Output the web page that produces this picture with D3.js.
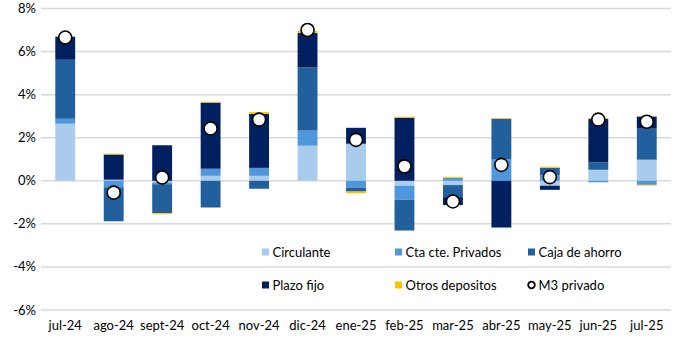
<!DOCTYPE html>
<html lang="es">
<head>
<meta charset="utf-8">
<title>M3 privado</title>
<script src="https://d3js.org/d3.v7.min.js"></script>
<style>
  body { margin: 0; background: #fff; }
  svg text { font-family: Lato, "Open Sans", sans-serif; font-size: 13px; fill: #000; }
</style>
</head>
<body>
<div id="chart"></div>
<script>
// months and contributions (p.p.)
var months = ["jul-24","ago-24","sept-24","oct-24","nov-24","dic-24","ene-25","feb-25","mar-25","abr-25","may-25","jun-25","jul-25"];
var circulante = [2.65, 0.05, -0.08, 0.23, 0.23, 1.63, 1.72, -0.23, -0.20, 0.00, -0.23, 0.51, 0.98];
var ctaCte     = [0.23, -0.30, -0.08, 0.33, 0.37, 0.70, -0.31, -0.65, 0.14, 0.99, 0.27, -0.07, -0.19];
var caja       = [2.74, -1.58, -1.34, -1.24, -0.37, 2.93, -0.19, -1.43, -0.56, 1.89, 0.33, 0.34, 1.44];
var plazoFijo  = [1.07, 1.17, 1.65, 3.07, 2.51, 1.60, 0.74, 2.93, -0.37, -2.17, -0.19, 2.02, 0.56];
var otros      = [0.02, 0.04, -0.05, 0.04, 0.08, 0.10, -0.08, 0.04, 0.04, 0.04, 0.05, 0.04, -0.03];
var m3         = [6.65, -0.55, 0.15, 2.43, 2.84, 7.00, 1.90, 0.67, -0.96, 0.74, 0.17, 2.84, 2.74];
var yTicks = [8, 6, 4, 2, 0, -2, -4, -6];

var seriesNames = ["Circulante", "Cta cte. Privados", "Caja de ahorro", "Plazo fijo", "Otros depositos"];
var seriesData = [circulante, ctaCte, caja, plazoFijo, otros];
var colors = ["#a9cbec", "#4f97dc", "#21609d", "#002060", "#ffc000"];

var W = 680, H = 340;
var plotLeft = 41, plotRight = 671, plotTop = 8.5, plotBottom = 310;

var svg = d3.select("#chart").append("svg")
  .attr("width", W).attr("height", H);

var x = d3.scaleBand().domain(months).range([plotLeft, plotRight])
  .paddingInner(0.59).paddingOuter(0.295);
var y = d3.scaleLinear().domain([-6, 8]).range([plotBottom, plotTop]);

// gridlines
svg.append("g").selectAll("line").data(yTicks).enter().append("line")
  .attr("x1", plotLeft).attr("x2", plotRight)
  .attr("y1", function(d){ return y(d); }).attr("y2", function(d){ return y(d); })
  .attr("stroke", "#d9d9d9").attr("stroke-width", 1.5);

// y labels
svg.append("g").selectAll("text").data(yTicks).enter().append("text")
  .attr("x", 36).attr("y", function(d){ return y(d); })
  .attr("dy", "0.35em").attr("text-anchor", "end")
  .text(function(d){ return d + "%"; });

// x labels
svg.append("g").selectAll("text").data(months).enter().append("text")
  .attr("x", function(d){ return x(d) + x.bandwidth() / 2; })
  .attr("y", 330).attr("text-anchor", "middle")
  .text(function(d){ return d; });

// stacked bars
var table = months.map(function(m, i) {
  var row = { month: m };
  seriesNames.forEach(function(s, j){ row[s] = seriesData[j][i]; });
  return row;
});
var stacked = d3.stack().keys(seriesNames).offset(d3.stackOffsetDiverging)(table);

svg.append("g").selectAll("g").data(stacked).enter().append("g")
  .attr("fill", function(d, i){ return colors[i]; })
  .selectAll("rect").data(function(d){ return d; }).enter().append("rect")
  .attr("x", function(d){ return x(d.data.month); })
  .attr("width", x.bandwidth())
  .attr("y", function(d){ return y(Math.max(d[0], d[1])); })
  .attr("height", function(d){ return Math.abs(y(d[0]) - y(d[1])); });

// M3 dots
svg.append("g").selectAll("circle").data(m3).enter().append("circle")
  .attr("cx", function(d, i){ return x(months[i]) + x.bandwidth() / 2; })
  .attr("cy", function(d){ return y(d); })
  .attr("r", 6.5)
  .attr("fill", "#fff").attr("stroke", "#000").attr("stroke-width", 1.6);

// legend
var legendItems = [
  { name: "Circulante", color: colors[0], x: 262, y: 252 },
  { name: "Cta cte. Privados", color: colors[1], x: 395, y: 252 },
  { name: "Caja de ahorro", color: colors[2], x: 528, y: 252 },
  { name: "Plazo fijo", color: colors[3], x: 262, y: 285 },
  { name: "Otros depositos", color: colors[4], x: 395, y: 285 },
  { name: "M3 privado", color: null, x: 528, y: 285 }
];
var lg = svg.append("g").selectAll("g").data(legendItems).enter().append("g")
  .attr("transform", function(d){ return "translate(" + d.x + "," + d.y + ")"; });
lg.filter(function(d){ return d.color; }).append("rect")
  .attr("x", 0).attr("y", -3.5).attr("width", 7).attr("height", 7)
  .attr("fill", function(d){ return d.color; });
lg.filter(function(d){ return !d.color; }).append("circle")
  .attr("cx", 3.5).attr("cy", 0).attr("r", 3.3)
  .attr("fill", "#fff").attr("stroke", "#000").attr("stroke-width", 1.8);
lg.append("text").attr("x", 10.5).attr("y", 0).attr("dy", "0.35em")
  .text(function(d){ return d.name; });
</script>
</body>
</html>
